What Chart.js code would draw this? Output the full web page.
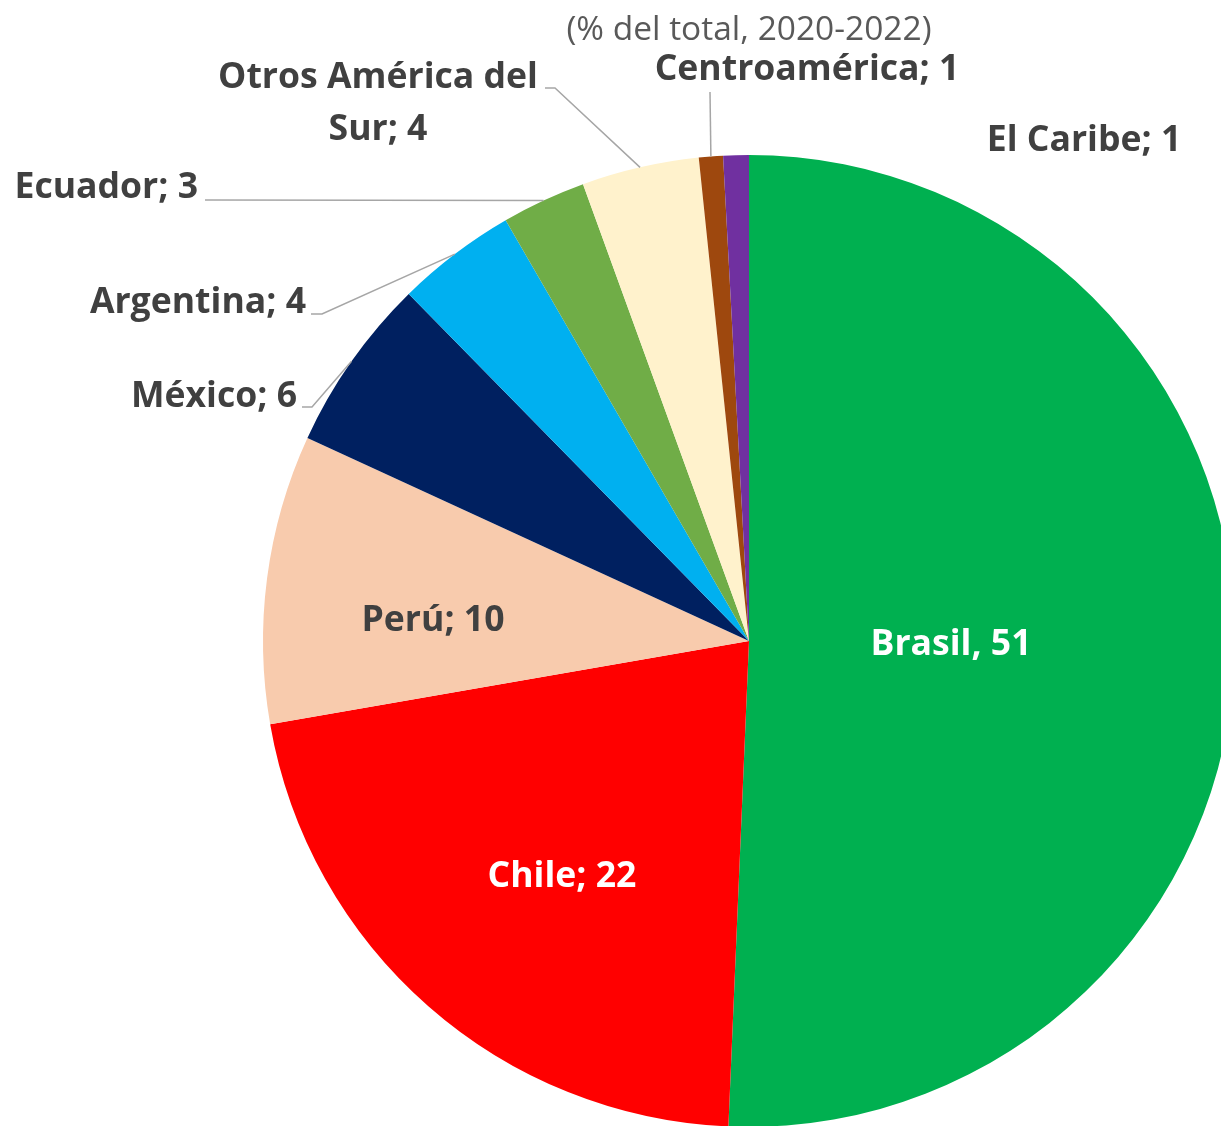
<!DOCTYPE html>
<html>
<head>
<meta charset="utf-8">
<script src="https://cdn.jsdelivr.net/npm/chart.js@4"></script>
<style>
  html, body { margin: 0; padding: 0; background: #fff; overflow: hidden; }
  #marco { position: relative; width: 1221px; height: 1126px; overflow: hidden; }
  #grafica { position: absolute; left: 0; top: 0; }
</style>
</head>
<body>
<div id="marco">
  <canvas id="grafica" width="1260" height="1180"></canvas>
</div>
<script>
// Datos del gráfico
const regiones = ['Brasil', 'Chile', 'Perú', 'México', 'Argentina', 'Ecuador', 'Otros América del Sur', 'Centroamérica', 'El Caribe'];
const participacion = [50.7, 21.6, 9.6, 5.8, 4.0, 2.8, 3.9, 0.8, 0.85];
const valoresMostrados = [51, 22, 10, 6, 4, 3, 4, 1, 1];
const separadores = [', ', '; ', '; ', '; ', '; ', '; ', '; ', '; ', '; '];
const colores = ['#00B050', '#FF0000', '#F8CBAD', '#002060', '#00B0F0', '#70AD47', '#FFF2CC', '#9E480E', '#7030A0'];
const subtitulo = '(% del total, 2020-2022)';

// Posición de cada etiqueta: alineación, x, línea base, corte de línea y codo de la guía
const etiquetas = [
    { align: 'center', x: 951, y: 655, color: '#FFFFFF' },
    { align: 'center', x: 562, y: 887, color: '#FFFFFF' },
    { align: 'center', x: 433, y: 631 },
    { align: 'right', x: 297, y: 407, guia: [[302, 407], [312, 407]] },
    { align: 'right', x: 306, y: 313, guia: [[311, 314], [322, 314]] },
    { align: 'right', x: 198, y: 198, guia: [[205, 200]] },
    { align: 'center', x: 378, y: 88, corte: 'Otros América del', guia: [[545, 88], [555, 88]] },
    { align: 'center', x: 807, y: 80, guia: [[710, 92]] },
    { align: 'center', x: 1084, y: 151 }
];

const fuente = '"Open Sans", sans-serif';

// Texto de cada etiqueta a partir de los datos
function lineasEtiqueta(i) {
    const texto = regiones[i] + separadores[i] + valoresMostrados[i];
    const corte = etiquetas[i].corte;
    if (corte) {
        return [corte, texto.slice(corte.length + 1)];
    }
    return [texto];
}

const pluginEtiquetas = {
    id: 'etiquetas',
    afterDraw(chart) {
        const ctx = chart.ctx;
        const arcos = chart.getDatasetMeta(0).data;
        ctx.save();

        // subtítulo
        ctx.font = '33.5px ' + fuente;
        ctx.fillStyle = '#595959';
        ctx.textAlign = 'center';
        ctx.textBaseline = 'alphabetic';
        ctx.fillText(subtitulo, 749, 40);

        etiquetas.forEach((et, i) => {
            const arco = arcos[i];
            // línea guía hasta el punto medio del arco
            if (et.guia) {
                const medio = (arco.startAngle + arco.endAngle) / 2;
                const px = arco.x + Math.cos(medio) * arco.outerRadius;
                const py = arco.y + Math.sin(medio) * arco.outerRadius;
                ctx.strokeStyle = '#A6A6A6';
                ctx.lineWidth = 1.5;
                ctx.beginPath();
                ctx.moveTo(et.guia[0][0], et.guia[0][1]);
                et.guia.slice(1).forEach(p => ctx.lineTo(p[0], p[1]));
                ctx.lineTo(px, py);
                ctx.stroke();
            }
            ctx.font = 'bold 35.6px ' + fuente;
            ctx.fillStyle = et.color || '#404040';
            ctx.textAlign = et.align;
            lineasEtiqueta(i).forEach((linea, j) => {
                ctx.fillText(linea, et.x, et.y + j * 52);
            });
        });
        ctx.restore();
    }
};

new Chart(document.getElementById('grafica'), {
    type: 'pie',
    data: {
        labels: regiones,
        datasets: [{
            data: participacion,
            backgroundColor: colores,
            borderWidth: 0
        }]
    },
    options: {
        responsive: false,
        animation: false,
        devicePixelRatio: 1,
        layout: {
            padding: { left: 263, top: 155, right: 25, bottom: 53 }
        },
        plugins: {
            legend: { display: false },
            tooltip: { enabled: false }
        }
    },
    plugins: [pluginEtiquetas]
});
</script>
</body>
</html>
